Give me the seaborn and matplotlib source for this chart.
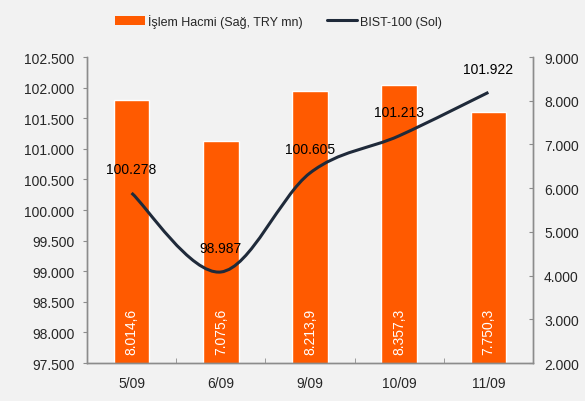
import numpy as np
import pandas as pd
import matplotlib.pyplot as plt
import seaborn as sns
from matplotlib.path import Path
from matplotlib.patches import PathPatch, Patch
from matplotlib.lines import Line2D
from matplotlib.ticker import FuncFormatter

sns.set_style("white")
plt.rcParams['font.family'] = ['Liberation Sans', 'DejaVu Sans']

dates = ['5/09', '6/09', '9/09', '10/09', '11/09']
bist = [100278, 98987, 100605, 101213, 101922]
volume = [8014.6, 7075.6, 8213.9, 8357.3, 7750.3]

bar_color = '#ff5a00'
line_color = '#1f2a3a'
bg = '#f2f2f2'

def dot_fmt(v, pos=None):
    return f"{int(round(v)):,}".replace(',', '.')

def tr_fmt(v):
    s = f"{v:,.1f}"
    return s.replace(',', 'X').replace('.', ',').replace('X', '.')

fig = plt.figure(figsize=(5.85, 4.02), dpi=100, facecolor=bg)
ax = fig.add_axes([0.1487, 0.0945, 0.7624, 0.7612])
ax2 = ax.twinx()

df = pd.DataFrame({'tarih': dates, 'hacim': volume})
sns.barplot(data=df, x='tarih', y='hacim', ax=ax2, color=bar_color,
            saturation=1, width=0.4)
ax2.set_ylim(2000, 9000)
ax2.set_yticks(range(2000, 9001, 1000))
ax2.yaxis.set_major_formatter(FuncFormatter(dot_fmt))
ax2.set_ylabel('')
ax2.set_xlabel('')

for i, v in enumerate(volume):
    ax2.annotate(tr_fmt(v), (i, 2000), xytext=(0, 6.5), textcoords='offset points',
                 rotation=90, ha='center', va='bottom', color='white', fontsize=10)

# line axis on top of bars
ax.set_zorder(ax2.get_zorder() + 1)
ax.patch.set_visible(False)
ax2.patch.set_facecolor(bg)

# smoothed line (Excel-like Catmull-Rom bezier through the points)
xs = np.arange(len(bist), dtype=float)
ys = np.array(bist, dtype=float)
verts = [(xs[0], ys[0])]
codes = [Path.MOVETO]
n = len(xs)
for i in range(n - 1):
    p0 = np.array([xs[max(i - 1, 0)], ys[max(i - 1, 0)]])
    p1 = np.array([xs[i], ys[i]])
    p2 = np.array([xs[i + 1], ys[i + 1]])
    p3 = np.array([xs[min(i + 2, n - 1)], ys[min(i + 2, n - 1)]])
    c1 = p1 + (p2 - p0) / 6
    c2 = p2 - (p3 - p1) / 6
    verts += [tuple(c1), tuple(c2), tuple(p2)]
    codes += [Path.CURVE4] * 3
ax.add_patch(PathPatch(Path(verts, codes), fill=False, edgecolor=line_color,
                       lw=2.2, capstyle='butt'))

for i, v in enumerate(bist):
    ax.annotate(dot_fmt(v), (i, v), xytext=(0, 17), textcoords='offset points',
                ha='center', va='center', fontsize=10, color='black')

ax.set_xlim(-0.5, 4.5)
ax.set_ylim(97500, 102500)
ax.set_yticks(range(97500, 102501, 500))
ax.yaxis.set_major_formatter(FuncFormatter(dot_fmt))
ax.yaxis.tick_left()
ax2.yaxis.tick_right()

for a in (ax, ax2):
    for s in a.spines.values():
        s.set_color('#8c8c8c')
        s.set_linewidth(1)
    a.spines['top'].set_visible(False)

ax.tick_params(axis='y', direction='out', length=3, color='#8c8c8c',
               labelsize=10, pad=6, left=True)
ax2.tick_params(axis='y', direction='in', length=3, color='#8c8c8c',
                labelsize=10, pad=8, right=True)
ax.set_xticks(range(len(dates)))
ax.set_xticklabels(dates)
ax.set_xticks([0.5, 1.5, 2.5, 3.5], minor=True)
ax.tick_params(axis='x', which='major', length=0, labelsize=10, pad=9)
ax.tick_params(axis='x', which='minor', direction='in', length=3.5,
               color='#8c8c8c', bottom=True)
ax2.tick_params(axis='x', which='both', length=0, labelbottom=False)

handles = [Patch(facecolor=bar_color, edgecolor='none'),
           Line2D([0], [0], color=line_color, lw=2.2)]
labels = ['İşlem Hacmi (Sağ, TRY mn)', 'BIST-100 (Sol)']
fig.legend(handles, labels, loc='center', bbox_to_anchor=(0.476, 0.946),
           ncol=2, frameon=False, fontsize=9, handlelength=2.4,
           handleheight=0.8, columnspacing=2.0, handletextpad=0.2)

fig.savefig('out.png', dpi=100, facecolor=bg)
